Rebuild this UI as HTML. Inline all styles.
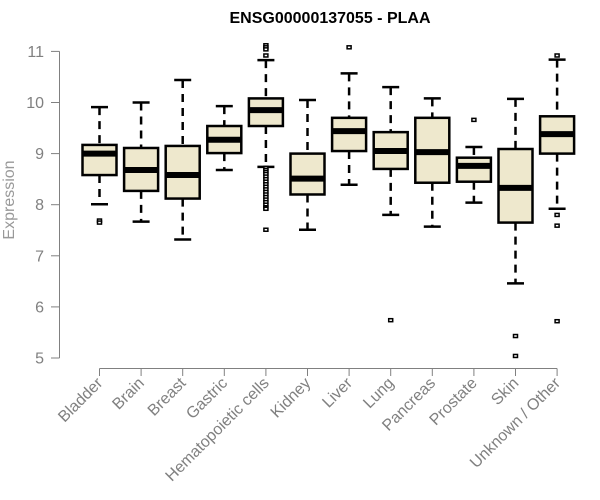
<!DOCTYPE html>
<html><head><meta charset="utf-8"><style>
body{margin:0;background:#fff}
svg{display:block;font-family:"Liberation Sans",Arial,sans-serif}
</style></head><body>
<svg id="c" width="600" height="500">
<text x="330" y="23" text-anchor="middle" font-weight="bold" font-size="16">ENSG00000137055 - PLAA</text>
<text transform="translate(14,200) rotate(-90)" text-anchor="middle" font-size="16" fill="#999">Expression</text>
</svg>
<script>
const categories=["Bladder","Brain","Breast","Gastric","Hematopoietic cells","Kidney","Liver","Lung","Pancreas","Prostate","Skin","Unknown / Other"];
const whiskLow=[8.01,7.67,7.32,8.68,8.74,7.51,8.39,7.8,7.57,8.04,6.46,7.92];
const q1=[8.58,8.27,8.12,9.01,9.54,8.2,9.05,8.7,8.43,8.45,7.65,9.0];
const median=[9.0,8.68,8.58,9.27,9.85,8.51,9.44,9.05,9.03,8.76,8.33,9.38];
const q3=[9.17,9.11,9.15,9.54,10.08,9.0,9.7,9.42,9.7,8.92,9.09,9.73];
const whiskHigh=[9.91,10.0,10.44,9.93,10.83,10.05,10.57,10.3,10.08,9.13,10.07,10.84];
const outliers=[[7.69,7.65],[],[],[],[11.12,11.08,11.04,10.92,8.72,8.68,8.64,8.6,8.55,8.5,8.45,8.4,8.35,8.3,8.25,8.2,8.15,8.1,8.05,8.0,7.95,7.92,7.51],[],[11.08],[5.74],[],[9.66],[5.43,5.04],[10.92,7.8,7.59,5.72]];
const yTicks=[5,6,7,8,9,10,11];
const NS="http://www.w3.org/2000/svg",svg=document.getElementById('c');
const y=v=>358-(v-5)*51.1;
const x=i=>99.5+i*41.6;
function mk(t,a,p){const e=document.createElementNS(NS,t);for(const k in a)e.setAttribute(k,a[k]);(p||svg).appendChild(e);return e;}
const ax=mk('g',{stroke:'#808080','stroke-width':1,fill:'none'});


mk('line',{x1:59.5,x2:59.5,y1:y(5),y2:y(11)},ax);
yTicks.forEach(t=>{mk('line',{x1:51,x2:59.5,y1:y(t),y2:y(t)},ax);
const tx=mk('text',{x:44,y:y(t)+5.5,'text-anchor':'end','font-size':16,fill:'#808080',stroke:'none'});


tx.textContent=t;});
mk('line',{x1:x(0),x2:x(11),y1:368.5,y2:368.5},ax);
categories.forEach((c,i)=>{
mk('line',{x1:x(i),x2:x(i),y1:368.5,y2:376},ax);
const tx=mk('text',{transform:`translate(${x(i)+4},384) rotate(-45)`,'text-anchor':'end','font-size':16,fill:'#808080'});


tx.textContent=c;
const g=mk('g',{stroke:'#000',fill:'none'});


const cx=x(i),hw=17;
mk('line',{x1:cx,x2:cx,y1:y(whiskHigh[i]),y2:y(q3[i]),'stroke-width':2.5,'stroke-dasharray':'8,6'},g);
mk('line',{x1:cx,x2:cx,y1:y(q1[i]),y2:y(whiskLow[i]),'stroke-width':2.5,'stroke-dasharray':'8,6'},g);
mk('line',{x1:cx-8.5,x2:cx+8.5,y1:y(whiskHigh[i]),y2:y(whiskHigh[i]),'stroke-width':2.5},g);
mk('line',{x1:cx-8.5,x2:cx+8.5,y1:y(whiskLow[i]),y2:y(whiskLow[i]),'stroke-width':2.5},g);
mk('rect',{x:cx-hw,y:y(q3[i]),width:hw*2,height:y(q1[i])-y(q3[i]),fill:'#EEE8CD','stroke-width':2.5},g);
mk('line',{x1:cx-hw,x2:cx+hw,y1:y(median[i]),y2:y(median[i]),'stroke-width':6},g);
outliers[i].forEach(v=>{const o=mk('rect',{x:cx-2,y:y(v)-1.5,width:4,height:3,fill:'#fff','stroke-width':1.5},g);

});
});
</script>
</body></html>
